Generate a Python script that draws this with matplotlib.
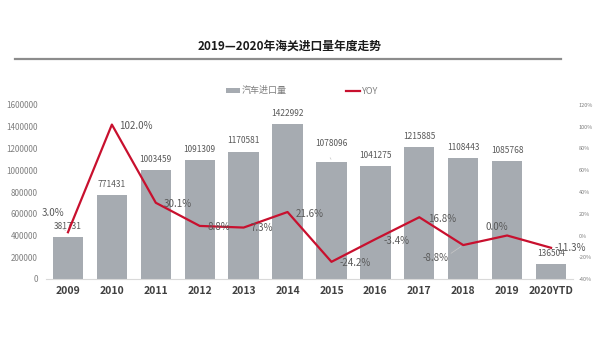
import matplotlib
matplotlib.use("Agg")
import matplotlib.pyplot as plt
from matplotlib.lines import Line2D
from matplotlib.patches import Patch
from matplotlib.ticker import FuncFormatter

plt.rcParams['font.family'] = ['Noto Sans CJK SC', 'DejaVu Sans']

# Annual customs import volume and year-on-year growth
years = ['2009', '2010', '2011', '2012', '2013', '2014', '2015', '2016',
         '2017', '2018', '2019', '2020YTD']
imports = [381731, 771431, 1003459, 1091309, 1170581, 1422992, 1078096,
           1041275, 1215885, 1108443, 1085768, 136504]
yoy = [3.0, 102.0, 30.1, 8.8, 7.3, 21.6, -24.2, -3.4, 16.8, -8.8, 0.0, -11.3]

BAR = '#a6abb1'
RED = '#c8102e'
TXT = '#595959'

fig = plt.figure(figsize=(5.99, 3.37), dpi=100)
fig.patch.set_facecolor('white')
ax = fig.add_axes([46 / 599, 1 - 279 / 337, 527 / 599, 174 / 337])
ax2 = ax.twinx()

x = list(range(len(years)))
ax.bar(x, imports, width=0.69, color=BAR, zorder=2)
ax.set_xlim(-0.5, len(years) - 0.5)
ax.set_ylim(0, 1600000)
ax.set_yticks(range(0, 1600001, 200000))
ax.yaxis.set_major_formatter(FuncFormatter(lambda v, p: f'{int(v)}'))
ax.set_xticks(x)
ax.set_xticklabels(years, fontsize=7.5, fontweight='bold', color='#404040')

ax2.plot(x, yoy, color=RED, lw=1.6, zorder=3)
ax2.set_ylim(-40, 120)
ax2.set_yticks(range(-40, 121, 20))
ax2.yaxis.set_major_formatter(FuncFormatter(lambda v, p: f'{int(v)}%'))

for a in (ax, ax2):
    for s in a.spines.values():
        s.set_visible(False)
    a.tick_params(length=0)
ax.spines['bottom'].set_visible(True)
ax.spines['bottom'].set_color('#d9d9d9')
ax.spines['bottom'].set_linewidth(0.8)
ax.tick_params(axis='y', labelsize=5.8, labelcolor='#7f7f7f', pad=6)
ax.tick_params(axis='x', pad=5)
ax2.tick_params(axis='y', labelsize=4, labelcolor='#7f7f7f', pad=4)

# value labels above the bars
for i, v in enumerate(imports):
    off = 10 if years[i] == '2015' else 4.5
    ax.annotate(str(v), (i, v), xytext=(0, off), textcoords='offset points',
                ha='center', va='bottom', fontsize=6, color=TXT, zorder=4)
    if years[i] == '2015':
        ax.annotate('', (i + 0.02, v), xytext=(i - 0.06, v + 60000),
                    arrowprops=dict(arrowstyle='-', color='#c8c8c8', lw=0.5))

# growth labels (pixel offsets relative to each point)
px = 0.72
pct_pos = {
    0: (-15, 19, 'center'), 1: (7, -1, 'left'), 2: (8, -1, 'left'),
    3: (8, -1.5, 'left'), 4: (7, -0.5, 'left'), 5: (8.5, -2, 'left'),
    6: (8, -1, 'left'), 7: (8, -1.5, 'left'), 8: (9, -2, 'left'),
    9: (-15, -12.7, 'right'), 10: (-10, 8.5, 'center'), 11: (4, 0, 'left'),
}
for i, v in enumerate(yoy):
    dx, dy, ha = pct_pos[i]
    ax2.annotate(f'{v:.1f}%', (i, v), xytext=(dx * px, dy * px),
                 textcoords='offset points', ha=ha, va='center',
                 fontsize=7, color=TXT, zorder=5)

# faint leader lines for the displaced labels
ax2.annotate('', (0, yoy[0]), xytext=(-0.33, yoy[0] + 9),
             arrowprops=dict(arrowstyle='-', color='#c8c8c8', lw=0.5))
ax2.annotate('', (9, yoy[9]), xytext=(8.67, yoy[9] - 9),
             arrowprops=dict(arrowstyle='-', color='#c8c8c8', lw=0.5))

# heading and rule
fig.text(290 / 599, 1 - 46 / 337, '2019—2020年海关进口量年度走势',
         ha='center', va='center', fontsize=8.5, fontweight='bold',
         color='#1a1a1a')
fig.add_artist(Line2D([15 / 599, 561 / 599], [1 - 59 / 337, 1 - 59 / 337],
                      color='#8c8c8c', lw=1.6, transform=fig.transFigure))

handles = [Patch(facecolor=BAR, edgecolor='none', label='汽车进口量'),
           Line2D([0], [0], color=RED, lw=1.6, label='YOY')]
fig.legend(handles=handles, loc='center', bbox_to_anchor=(302 / 599, 1 - 91 / 337),
           ncol=2, frameon=False, fontsize=6.5, labelcolor='#7f7f7f',
           handlelength=1.6, handleheight=0.5, columnspacing=6.5,
           handletextpad=0.2)

fig.savefig('out.png', dpi=100, facecolor='white')
